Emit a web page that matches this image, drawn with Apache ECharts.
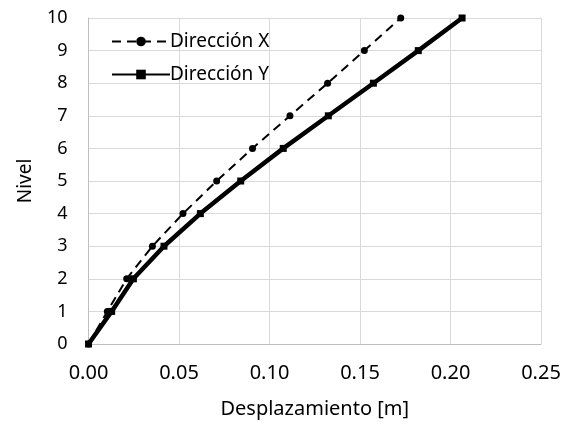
<!DOCTYPE html>
<html>
<head>
<meta charset="utf-8">
<script src="https://cdn.jsdelivr.net/npm/echarts@6/dist/echarts.min.js"></script>
<style>
  html, body { margin: 0; padding: 0; background: #fff; }
  #chart { width: 564px; height: 427px; }
</style>
</head>
<body>
<div id="chart"></div>
<script>
  // niveles y desplazamientos
  const levels = [0, 1, 2, 3, 4, 5, 6, 7, 8, 9, 10];
  const dirX = [0, 0.0104, 0.0211, 0.0353, 0.0522, 0.0708, 0.0906, 0.1113, 0.1321, 0.1524, 0.1725];
  const dirY = [0, 0.0128, 0.0248, 0.0417, 0.0618, 0.0841, 0.1076, 0.1325, 0.1574, 0.1822, 0.2064];
  const names = ['Dirección X', 'Dirección Y'];

  const font = 'Noto Sans, Open Sans, sans-serif';
  const chart = echarts.init(document.getElementById('chart'));

  const option = {
    animation: false,
    textStyle: { fontFamily: font },
    grid: { left: 88.5, right: 23, top: 18, bottom: 83 },
    legend: {
      orient: 'vertical',
      left: 106,
      top: 27,
      itemWidth: 58,
      itemHeight: 12,
      itemGap: 14,
      textStyle: { fontSize: 19, color: '#000', fontFamily: font, padding: [0, 0, 0, -5] },
      data: names
    },
    xAxis: {
      type: 'value',
      min: 0,
      max: 0.25,
      interval: 0.05,
      name: 'Desplazamiento [m]',
      nameLocation: 'middle',
      nameGap: 55,
      nameTextStyle: { fontSize: 20, color: '#000' },
      axisLine: { show: true, lineStyle: { color: '#bfbfbf', width: 1 } },
      axisTick: { show: false },
      axisLabel: { fontSize: 20, color: '#000', margin: 19, formatter: v => v.toFixed(2) },
      splitLine: { show: true, lineStyle: { color: '#d9d9d9', width: 1 } }
    },
    yAxis: {
      type: 'value',
      min: 0,
      max: 10,
      interval: 1,
      name: 'Nivel',
      nameLocation: 'middle',
      nameGap: 53,
      nameTextStyle: { fontSize: 19, color: '#000' },
      axisLine: { show: true, lineStyle: { color: '#bfbfbf', width: 1 } },
      axisTick: { show: false },
      axisLabel: { fontSize: 18, color: '#000', margin: 21 },
      splitLine: { show: true, lineStyle: { color: '#d9d9d9', width: 1 } }
    },
    series: [
      {
        name: names[0],
        type: 'line',
        data: dirX.map((d, i) => [d, levels[i]]),
        symbol: 'circle',
        symbolSize: 7,
        itemStyle: { color: '#000' },
        lineStyle: { color: '#000', width: 2, type: [9, 6] },
        z: 3
      },
      {
        name: names[1],
        type: 'line',
        data: dirY.map((d, i) => [d, levels[i]]),
        symbol: 'rect',
        symbolSize: 7,
        itemStyle: { color: '#000' },
        lineStyle: { color: '#000', width: 4.5 },
        z: 2
      }
    ]
  };
  chart.setOption(option);
</script>
</body>
</html>
